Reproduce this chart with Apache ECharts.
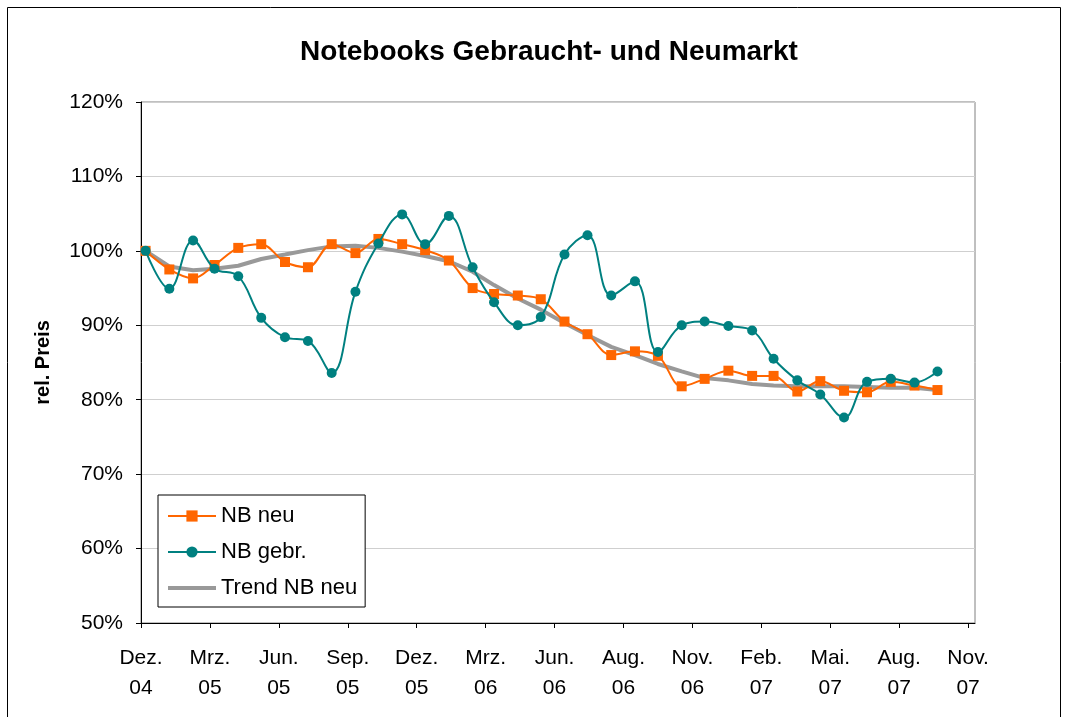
<!DOCTYPE html>
<html>
<head>
<meta charset="utf-8">
<script src="https://cdn.jsdelivr.net/npm/echarts@6/dist/echarts.min.js"></script>
<style>
  html, body { margin: 0; padding: 0; background: #fff; }
  #chart { width: 1066px; height: 717px; }
</style>
</head>
<body>
<div id="chart"></div>
<script>
// ---- data ----
const axisStart = '2004-12-07';          // date at the left end of the x axis
const axisEndDays = 1089;                // axis length in days
const tickStepDays = 90;                 // major unit
const tickLabels = ['Dez.\n04','Mrz.\n05','Jun.\n05','Sep.\n05','Dez.\n05','Mrz.\n06','Jun.\n06',
                    'Aug.\n06','Nov.\n06','Feb.\n07','Mai.\n07','Aug.\n07','Nov.\n07'];
const months = ['2004-12','2005-01','2005-02','2005-03','2005-04','2005-05','2005-06','2005-07',
                '2005-08','2005-09','2005-10','2005-11','2005-12','2006-01','2006-02','2006-03',
                '2006-04','2006-05','2006-06','2006-07','2006-08','2006-09','2006-10','2006-11',
                '2006-12','2007-01','2007-02','2007-03','2007-04','2007-05','2007-06','2007-07',
                '2007-08','2007-09','2007-10'];
const dayOfMonth = 13;
const nbNeu = [100.0, 97.5, 96.3, 98.1, 100.4, 100.9, 98.5, 97.8, 100.9, 99.7,
               101.6, 100.9, 100.1, 98.7, 95.0, 94.2, 94.0, 93.5, 90.5, 88.8,
               86.0, 86.5, 85.9, 81.8, 82.8, 83.9, 83.2, 83.2, 81.1, 82.5,
               81.2, 81.0, 82.4, 81.9, 81.3];
const nbGebr = [100.0, 94.9, 101.4, 97.6, 96.6, 91.0, 88.4, 87.9, 83.6, 94.5,
                101.0, 104.9, 100.9, 104.7, 97.8, 93.1, 90.0, 91.1, 99.5, 102.1,
                94.0, 95.9, 86.4, 90.0, 90.5, 89.9, 89.3, 85.5, 82.6, 80.7,
                77.6, 82.4, 82.8, 82.3, 83.8];
const trendNeu = [100.0, 97.9, 97.4, 97.6, 98.0, 98.9, 99.5, 100.1, 100.6, 100.7,
                  100.4, 99.9, 99.3, 98.6, 97.2, 95.4, 93.6, 92.1, 90.3, 88.7,
                  87.1, 86.0, 84.8, 83.8, 82.9, 82.6, 82.1, 81.9, 81.8, 81.8,
                  81.8, 81.7, 81.6, 81.6, 81.3];

// ---- build ----
const DAY = 86400000;
const startMs = Date.parse(axisStart + 'T00:00:00Z');
const xDays = months.map(m => {
  const [y, mo] = m.split('-').map(Number);
  return (Date.UTC(y, mo - 1, dayOfMonth) - startMs) / DAY;
});
const pair = arr => arr.map((v, i) => [xDays[i], v]);
const tickValues = tickLabels.map((_, i) => i * tickStepDays);

const FONT = "'Liberation Sans', Arial, sans-serif";
const chart = echarts.init(document.getElementById('chart'), null, { renderer: 'canvas' });
chart.setOption({
  backgroundColor: '#ffffff',
  animation: false,
  title: {
    text: 'Notebooks Gebraucht- und Neumarkt',
    left: 544, top: 33, textAlign: 'center',
    textStyle: { fontFamily: FONT, fontSize: 28, fontWeight: 'bold', color: '#000' }
  },
  graphic: [{
    type: 'rect', shape: { x: 7.5, y: 7.5, width: 1053, height: 740 },
    style: { fill: 'none', stroke: '#000', lineWidth: 1 }, silent: true, z: -1
  }],
  grid: { left: 141, top: 102, right: 91, bottom: 94, show: true,
          borderColor: '#808080', borderWidth: 1, backgroundColor: 'transparent' },
  legend: {
    orient: 'vertical', left: 158, top: 495,
    padding: [9, 8, 7, 8],
    itemWidth: 48, itemHeight: 14, itemGap: 12,
    borderColor: '#000', borderWidth: 1, backgroundColor: '#fff',
    textStyle: { fontFamily: FONT, fontSize: 22, color: '#000', lineHeight: 24 },
    data: ['NB neu', 'NB gebr.',
           { name: 'Trend NB neu',
             itemStyle: { opacity: 0, color: 'rgba(0,0,0,0)', borderWidth: 0 },
             lineStyle: { width: 4, color: '#999999' } }]
  },
  xAxis: {
    type: 'value', min: 0, max: axisEndDays, interval: tickStepDays,
    axisLine: { show: true, lineStyle: { color: '#000', width: 1 } },
    axisTick: { show: true, length: 5, inside: false, customValues: tickValues,
                lineStyle: { color: '#000' } },
    splitLine: { show: false },
    axisLabel: {
      customValues: tickValues,
      margin: 20, fontFamily: FONT, fontSize: 21, color: '#000', lineHeight: 30,
      formatter: v => tickLabels[Math.round(v / tickStepDays)] || ''
    }
  },
  yAxis: {
    type: 'value', min: 50, max: 120, interval: 10,
    name: 'rel. Preis', nameLocation: 'middle', nameGap: 88,
    nameTextStyle: { fontFamily: FONT, fontSize: 20, fontWeight: 'bold', color: '#000' },
    axisLine: { show: true, lineStyle: { color: '#000', width: 1 } },
    axisTick: { show: true, length: 5, inside: false, lineStyle: { color: '#000' } },
    splitLine: { show: true, lineStyle: { color: '#cfcfcf', width: 1 } },
    axisLabel: { margin: 18, fontFamily: FONT, fontSize: 21, color: '#000',
                 formatter: '{value}%' }
  },
  series: [
    {
      name: 'NB neu', type: 'line', data: pair(nbNeu), smooth: 0.35,
      symbol: 'rect', symbolSize: 10, showSymbol: true,
      lineStyle: { color: '#FF6600', width: 2 },
      itemStyle: { color: '#FF6600' }, z: 3
    },
    {
      name: 'NB gebr.', type: 'line', data: pair(nbGebr), smooth: 0.4,
      symbol: 'circle', symbolSize: 10, showSymbol: true,
      lineStyle: { color: '#008080', width: 2 },
      itemStyle: { color: '#008080' }, z: 4
    },
    {
      name: 'Trend NB neu', type: 'line', data: pair(trendNeu), smooth: false,
      symbol: 'none', showSymbol: false,
      lineStyle: { color: '#999999', width: 4 },
      itemStyle: { color: '#999999' }, z: 2
    }
  ]
});
</script>
</body>
</html>
